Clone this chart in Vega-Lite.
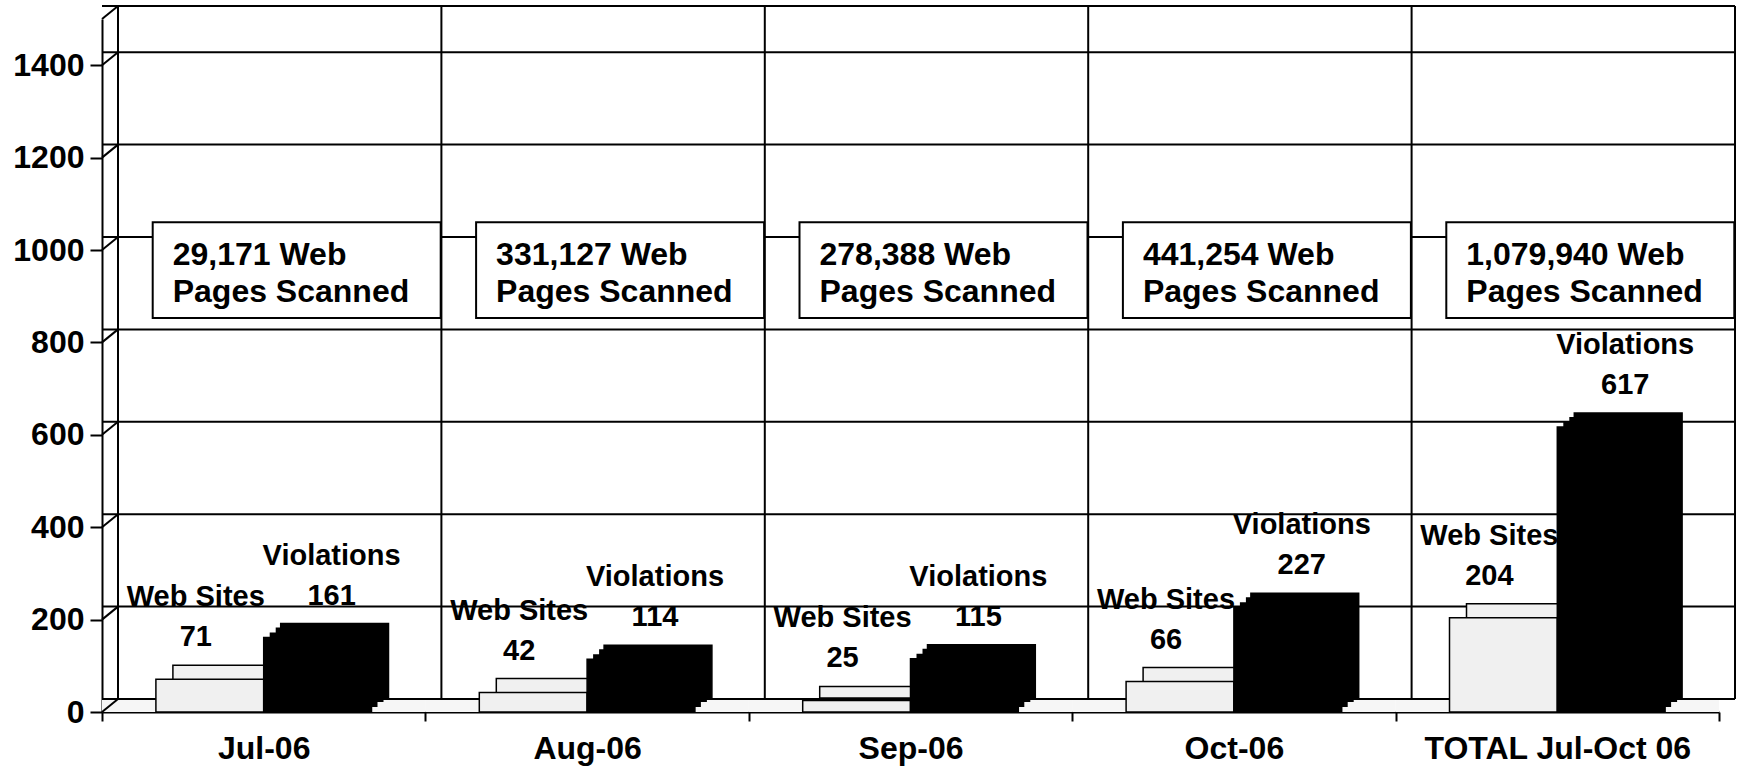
{
  "$schema": "https://vega.github.io/schema/vega-lite/v6.json",
  "width": 1617,
  "height": 693,
  "autosize": "none",
  "padding": {"left": 102, "top": 19, "right": 18, "bottom": 55},
  "background": "white",
  "config": {
    "view": {"stroke": null},
    "axis": {"labelFont": "Liberation Sans", "labelFontWeight": "bold", "labelFontSize": 32, "labelColor": "black", "domainColor": "black", "domainWidth": 2, "tickColor": "black", "tickWidth": 2, "grid": false, "labelLimit": 0}
  },
  "resolve": {"scale": {"xOffset": "independent"}},
  "datasets": {
    "bars": [
      {"month": "Jul-06", "series": "Web Sites", "value": 71},
      {"month": "Jul-06", "series": "Violations", "value": 161},
      {"month": "Aug-06", "series": "Web Sites", "value": 42},
      {"month": "Aug-06", "series": "Violations", "value": 114},
      {"month": "Sep-06", "series": "Web Sites", "value": 25},
      {"month": "Sep-06", "series": "Violations", "value": 115},
      {"month": "Oct-06", "series": "Web Sites", "value": 66},
      {"month": "Oct-06", "series": "Violations", "value": 227},
      {"month": "TOTAL Jul-Oct 06", "series": "Web Sites", "value": 204},
      {"month": "TOTAL Jul-Oct 06", "series": "Violations", "value": 617}
    ],
    "months": [
      {"month": "Jul-06", "pages": "29,171 Web\nPages Scanned"},
      {"month": "Aug-06", "pages": "331,127  Web\nPages Scanned"},
      {"month": "Sep-06", "pages": "278,388 Web\nPages Scanned"},
      {"month": "Oct-06", "pages": "441,254 Web\nPages Scanned"},
      {"month": "TOTAL Jul-Oct 06", "pages": "1,079,940  Web\nPages Scanned"}
    ],
    "grid": [{"g": 0}, {"g": 200}, {"g": 400}, {"g": 600}, {"g": 800}, {"g": 1000}, {"g": 1200}, {"g": 1400}, {"g": 1500}]
  },
  "layer": [
    {
      "data": {"name": "months"},
      "mark": {"type": "bar", "fill": "#f6f6f6", "y2Offset": -13},
      "encoding": {
        "x": {"field": "month", "type": "nominal", "sort": ["Jul-06", "Aug-06", "Sep-06", "Oct-06", "TOTAL Jul-Oct 06"], "scale": {"paddingInner": 0, "paddingOuter": 0}, "title": null, "axis": {"tickBand": "extent", "tickSize": 9, "labelPadding": 12, "labelAngle": 0}},
        "y": {"datum": 0, "type": "quantitative", "scale": {"domain": [0, 1500], "nice": false}, "title": null, "axis": {"values": [0, 200, 400, 600, 800, 1000, 1200, 1400], "format": "d", "tickSize": 12, "labelPadding": 6}},
        "y2": {"datum": 0}
      }
    },
    {
      "data": {"name": "grid"},
      "mark": {"type": "rule", "color": "black", "strokeWidth": 2, "xOffset": 16, "x2Offset": 16, "yOffset": -13},
      "encoding": {
        "y": {"field": "g", "type": "quantitative", "title": null}
      }
    },
    {
      "data": {"name": "grid"},
      "mark": {"type": "rule", "color": "black", "strokeWidth": 2, "x2Offset": 16, "y2Offset": -13},
      "encoding": {
        "x": {"datum": "Jul-06", "type": "nominal", "bandPosition": 0},
        "x2": {"datum": "Jul-06", "bandPosition": 0},
        "y": {"field": "g", "type": "quantitative", "title": null},
        "y2": {"field": "g"}
      }
    },
    {
      "data": {"name": "months"},
      "mark": {"type": "rule", "color": "black", "strokeWidth": 2, "xOffset": 16, "yOffset": -13, "y2Offset": -13},
      "encoding": {
        "x": {"field": "month", "type": "nominal", "sort": ["Jul-06", "Aug-06", "Sep-06", "Oct-06", "TOTAL Jul-Oct 06"], "bandPosition": 0, "title": null},
        "y": {"datum": 0, "type": "quantitative"},
        "y2": {"datum": 1500}
      }
    },
    {
      "data": {"name": "months"},
      "transform": [{"filter": "datum.month == 'TOTAL Jul-Oct 06'"}],
      "mark": {"type": "rule", "color": "black", "strokeWidth": 2, "xOffset": 16, "yOffset": -13, "y2Offset": -13},
      "encoding": {
        "x": {"field": "month", "type": "nominal", "sort": ["Jul-06", "Aug-06", "Sep-06", "Oct-06", "TOTAL Jul-Oct 06"], "bandPosition": 1, "title": null},
        "y": {"datum": 0, "type": "quantitative"},
        "y2": {"datum": 1500}
      }
    },
    {
      "data": {"name": "bars"},
      "mark": {"type": "bar", "stroke": "black", "strokeWidth": 1.5, "yOffset": -14, "y2Offset": -14},
      "encoding": {
        "x": {"field": "month", "type": "nominal", "sort": ["Jul-06", "Aug-06", "Sep-06", "Oct-06", "TOTAL Jul-Oct 06"], "title": null},
        "xOffset": {"field": "series", "type": "nominal", "sort": ["Web Sites", "Violations"], "scale": {"paddingInner": 0, "paddingOuter": 0.5, "range": [17, 340.4]}},
        "y": {"field": "value", "type": "quantitative", "title": null},
        "color": {"field": "series", "type": "nominal", "scale": {"domain": ["Web Sites", "Violations"], "range": ["#f0f0f0", "#000000"]}, "legend": null}
      }
    },
    {
      "data": {"name": "bars"},
      "transform": [{"filter": "datum.series == 'Violations'"}],
      "mark": {"type": "bar", "fill": "black", "yOffset": -10, "y2Offset": -10},
      "encoding": {
        "x": {"field": "month", "type": "nominal", "sort": ["Jul-06", "Aug-06", "Sep-06", "Oct-06", "TOTAL Jul-Oct 06"], "title": null},
        "xOffset": {"field": "series", "type": "nominal", "sort": ["Web Sites", "Violations"], "scale": {"domain": ["Web Sites", "Violations"], "paddingInner": 0, "paddingOuter": 0.5, "range": [12, 335.4]}},
        "y": {"field": "value", "type": "quantitative", "title": null}
      }
    },
    {
      "data": {"name": "bars"},
      "transform": [{"filter": "datum.series == 'Violations'"}],
      "mark": {"type": "bar", "fill": "black", "yOffset": -5, "y2Offset": -5},
      "encoding": {
        "x": {"field": "month", "type": "nominal", "sort": ["Jul-06", "Aug-06", "Sep-06", "Oct-06", "TOTAL Jul-Oct 06"], "title": null},
        "xOffset": {"field": "series", "type": "nominal", "sort": ["Web Sites", "Violations"], "scale": {"domain": ["Web Sites", "Violations"], "paddingInner": 0, "paddingOuter": 0.5, "range": [6, 329.4]}},
        "y": {"field": "value", "type": "quantitative", "title": null}
      }
    },
    {
      "data": {"name": "bars"},
      "transform": [{"filter": "datum.series == 'Web Sites'"}],
      "mark": {"type": "text", "font": "Liberation Sans", "fontWeight": "bold", "fontSize": 29, "baseline": "alphabetic", "dx": -14, "yOffset": -33},
      "encoding": {
        "x": {"field": "month", "type": "nominal", "sort": ["Jul-06", "Aug-06", "Sep-06", "Oct-06", "TOTAL Jul-Oct 06"], "title": null},
        "xOffset": {"field": "series", "type": "nominal", "sort": ["Web Sites", "Violations"], "scale": {"domain": ["Web Sites", "Violations"], "padding": 1}},
        "y": {"field": "value", "type": "quantitative", "title": null},
        "text": {"field": "value"}
      }
    },
    {
      "data": {"name": "bars"},
      "transform": [{"filter": "datum.series == 'Web Sites'"}],
      "mark": {"type": "text", "font": "Liberation Sans", "fontWeight": "bold", "fontSize": 29, "baseline": "alphabetic", "dx": -14, "yOffset": -73},
      "encoding": {
        "x": {"field": "month", "type": "nominal", "sort": ["Jul-06", "Aug-06", "Sep-06", "Oct-06", "TOTAL Jul-Oct 06"], "title": null},
        "xOffset": {"field": "series", "type": "nominal", "sort": ["Web Sites", "Violations"], "scale": {"domain": ["Web Sites", "Violations"], "padding": 1}},
        "y": {"field": "value", "type": "quantitative", "title": null},
        "text": {"field": "series"}
      }
    },
    {
      "data": {"name": "bars"},
      "transform": [{"filter": "datum.series == 'Violations'"}],
      "mark": {"type": "text", "font": "Liberation Sans", "fontWeight": "bold", "fontSize": 29, "baseline": "alphabetic", "dx": 14, "yOffset": -33},
      "encoding": {
        "x": {"field": "month", "type": "nominal", "sort": ["Jul-06", "Aug-06", "Sep-06", "Oct-06", "TOTAL Jul-Oct 06"], "title": null},
        "xOffset": {"field": "series", "type": "nominal", "sort": ["Web Sites", "Violations"], "scale": {"domain": ["Web Sites", "Violations"], "padding": 1}},
        "y": {"field": "value", "type": "quantitative", "title": null},
        "text": {"field": "value"}
      }
    },
    {
      "data": {"name": "bars"},
      "transform": [{"filter": "datum.series == 'Violations'"}],
      "mark": {"type": "text", "font": "Liberation Sans", "fontWeight": "bold", "fontSize": 29, "baseline": "alphabetic", "dx": 14, "yOffset": -73},
      "encoding": {
        "x": {"field": "month", "type": "nominal", "sort": ["Jul-06", "Aug-06", "Sep-06", "Oct-06", "TOTAL Jul-Oct 06"], "title": null},
        "xOffset": {"field": "series", "type": "nominal", "sort": ["Web Sites", "Violations"], "scale": {"domain": ["Web Sites", "Violations"], "padding": 1}},
        "y": {"field": "value", "type": "quantitative", "title": null},
        "text": {"field": "series"}
      }
    },
    {
      "data": {"name": "bars"},
      "mark": {"type": "bar", "stroke": "black", "strokeWidth": 1.5},
      "encoding": {
        "x": {"field": "month", "type": "nominal", "sort": ["Jul-06", "Aug-06", "Sep-06", "Oct-06", "TOTAL Jul-Oct 06"], "title": null},
        "xOffset": {"field": "series", "type": "nominal", "sort": ["Web Sites", "Violations"], "scale": {"paddingInner": 0, "paddingOuter": 0.5}},
        "y": {"field": "value", "type": "quantitative", "title": null},
        "color": {"field": "series", "type": "nominal", "legend": null}
      }
    },
    {
      "data": {"name": "months"},
      "mark": {"type": "bar", "width": 288, "fill": "white", "stroke": "black", "strokeWidth": 2, "xOffset": 33},
      "encoding": {
        "x": {"field": "month", "type": "nominal", "sort": ["Jul-06", "Aug-06", "Sep-06", "Oct-06", "TOTAL Jul-Oct 06"], "title": null},
        "y": {"datum": 1060, "type": "quantitative"},
        "y2": {"datum": 853}
      }
    },
    {
      "data": {"name": "months"},
      "mark": {"type": "text", "align": "left", "baseline": "alphabetic", "font": "Liberation Sans", "fontWeight": "bold", "fontSize": 32, "lineBreak": "\n", "lineHeight": 37, "dx": -91},
      "encoding": {
        "x": {"field": "month", "type": "nominal", "sort": ["Jul-06", "Aug-06", "Sep-06", "Oct-06", "TOTAL Jul-Oct 06"], "title": null},
        "y": {"datum": 967, "type": "quantitative"},
        "text": {"field": "pages"}
      }
    }
  ]
}
